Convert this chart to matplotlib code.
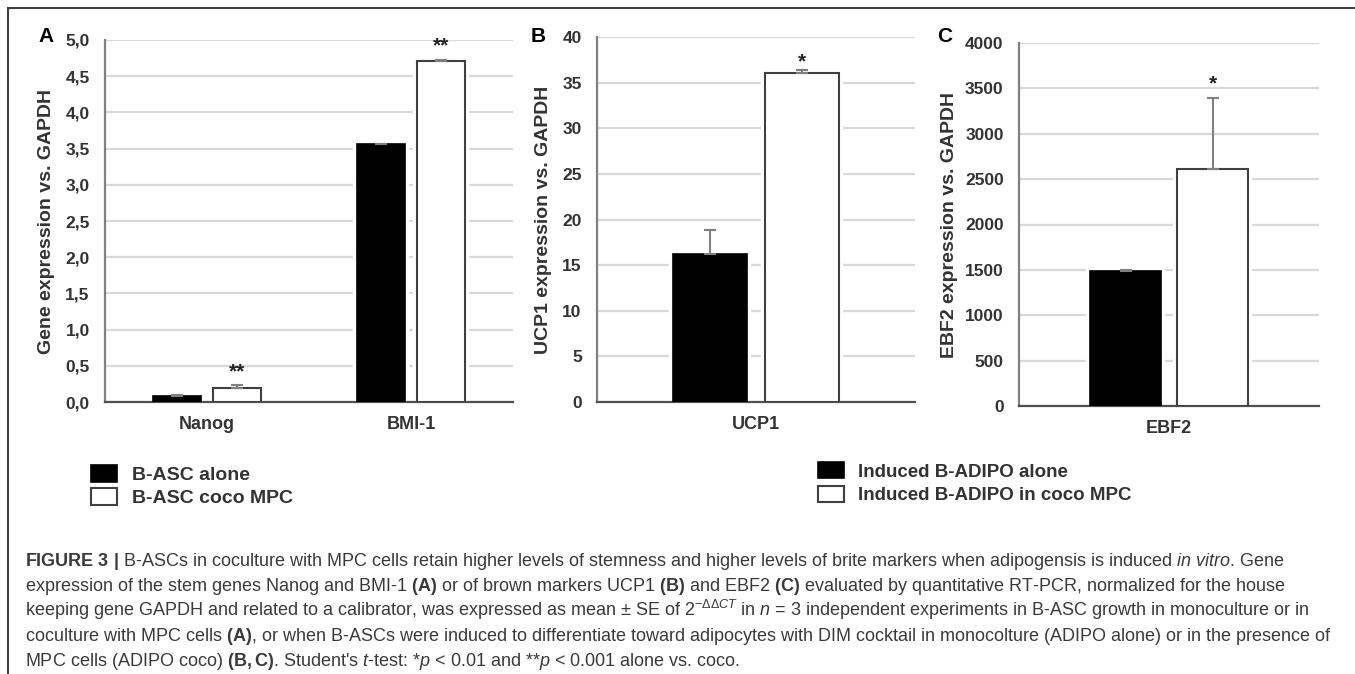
import numpy as np
import matplotlib
matplotlib.use("Agg")
import matplotlib.pyplot as plt
from matplotlib.patches import Patch
from matplotlib.lines import Line2D
from matplotlib.ticker import FuncFormatter, MultipleLocator

plt.rcParams['font.family'] = ['Liberation Sans', 'DejaVu Sans']
plt.rcParams['mathtext.fontset'] = 'custom'
plt.rcParams['mathtext.rm'] = 'Liberation Sans'
plt.rcParams['mathtext.it'] = 'Liberation Sans:italic'
plt.rcParams['mathtext.bf'] = 'Liberation Sans:bold'
plt.rcParams['mathtext.sf'] = 'Liberation Sans'

# Datos
GENES_A = ["Nanog", "BMI-1"]
ASC_SOLO = [0.08, 3.56]
ASC_SOLO_ERR = [0.01, 0.01]
ASC_COCO = [0.20, 4.71]
ASC_COCO_ERR = [0.04, 0.02]
ESTRELLAS_A = ["**", "**"]

GENES_B = ["UCP1"]
UCP1_SOLO = [16.2]
UCP1_SOLO_ERR = [2.7]
UCP1_COCO = [36.1]
UCP1_COCO_ERR = [0.3]
ESTRELLAS_B = ["*"]

GENES_C = ["EBF2"]
EBF2_SOLO = [1490]
EBF2_SOLO_ERR = [10]
EBF2_COCO = [2610]
EBF2_COCO_ERR = [780]
ESTRELLAS_C = ["*"]

LEYENDA_1 = ["B-ASC alone", "B-ASC coco MPC"]
LEYENDA_2 = ["Induced B-ADIPO alone", "Induced B-ADIPO in coco MPC"]

CAPTION = [
    r"$\mathbf{FIGURE\ 3\ |}$ B-ASCs in coculture with MPC cells retain higher levels of stemness and higher levels of brite markers when adipogensis is induced $\mathit{in\ vitro}$. Gene",
    r"expression of the stem genes Nanog and BMI-1 $\mathbf{(A)}$ or of brown markers UCP1 $\mathbf{(B)}$ and EBF2 $\mathbf{(C)}$ evaluated by quantitative RT-PCR, normalized for the house",
    r"keeping gene GAPDH and related to a calibrator, was expressed as mean ± SE of 2$^{-\Delta\Delta \mathit{CT}}$ in $\mathit{n}$ = 3 independent experiments in B-ASC growth in monoculture or in",
    r"coculture with MPC cells $\mathbf{(A)}$, or when B-ASCs were induced to differentiate toward adipocytes with DIM cocktail in monocolture (ADIPO alone) or in the presence of",
    r"MPC cells (ADIPO coco) $\mathbf{(B,C)}$. Student's $\mathit{t}$-test: *$\mathit{p}$ < 0.01 and **$\mathit{p}$ < 0.001 alone vs. coco.",
]

W, H = 1355, 674
fig = plt.figure(figsize=(W / 100, H / 100), dpi=100)

GRIS_TXT = '#333333'
ANCHO = 0.235
DESP = 0.145


def coma(v, pos):
    return f"{v:.1f}".replace(".", ",")


def panel(rect, genes, solo, solo_err, coco, coco_err, estrellas, off_est,
          ymax, paso, ylabel, xlab, letra, letra_x, fmt=None):
    ax = fig.add_axes(rect)
    x = np.arange(len(genes))
    ceros = [0] * len(genes)
    # halo blanco que corta la grilla alrededor de las barras
    for xs, vals in ((x - DESP, solo), (x + DESP, coco)):
        ax.bar(xs, vals, ANCHO, color='none', edgecolor='white', linewidth=6, zorder=1.5)
    ax.bar(x - DESP, solo, ANCHO, color='black', edgecolor='black', linewidth=1.2,
           yerr=[ceros, solo_err], error_kw=dict(ecolor='#808080', elinewidth=1.5,
                                                   capsize=4, capthick=1.5), zorder=3)
    ax.bar(x + DESP, coco, ANCHO, color='white', edgecolor='#404040', linewidth=1.5,
           yerr=[ceros, coco_err], error_kw=dict(ecolor='#808080', elinewidth=1.5,
                                                  capsize=4, capthick=1.5), zorder=3)
    for xi, v, e, s, o in zip(x, coco, coco_err, estrellas, off_est):
        ax.annotate(s, xy=(xi + DESP, v + e), xytext=(0, o), textcoords='offset points',
                    ha='center', va='center', fontsize=15, fontweight='bold', color='#222222')
    ax.set_xlim(-0.5, len(genes) - 0.5)
    ax.set_ylim(0, ymax)
    ax.yaxis.set_major_locator(MultipleLocator(paso))
    if fmt is not None:
        ax.yaxis.set_major_formatter(FuncFormatter(fmt))
    ax.set_xticks(x)
    ax.set_xticklabels(genes)
    ax.set_axisbelow(True)
    ax.grid(axis='y', color='#d9d9d9', linewidth=1.6)
    for s in ('top', 'right'):
        ax.spines[s].set_visible(False)
    ax.spines['left'].set_color('#808080')
    ax.spines['left'].set_linewidth(1.6)
    ax.spines['bottom'].set_color('#505050')
    ax.spines['bottom'].set_linewidth(1.6)
    ax.tick_params(axis='y', length=0, pad=11, labelsize=12.5, labelcolor=GRIS_TXT)
    ax.tick_params(axis='x', length=0, pad=10, labelsize=13, labelcolor=GRIS_TXT)
    for t in ax.get_xticklabels() + ax.get_yticklabels():
        t.set_fontweight('bold')
    ax.set_ylabel(ylabel, fontsize=14, fontweight='bold', color=GRIS_TXT)
    ax.yaxis.set_label_coords(xlab, 0.5)
    fig.text(letra_x / W, 1 - 36 / H, letra, fontsize=15, fontweight='bold',
             ha='center', va='center', color='black')
    return ax


panel([105 / W, 1 - 402 / H, 408 / W, 362 / H], GENES_A, ASC_SOLO, ASC_SOLO_ERR,
      ASC_COCO, ASC_COCO_ERR, ESTRELLAS_A, [9.5, 10], 5, 0.5,
      "Gene expression vs. GAPDH", -0.1225, "A", 46, fmt=coma)
panel([597 / W, 1 - 402 / H, 318 / W, 365 / H], GENES_B, UCP1_SOLO, UCP1_SOLO_ERR,
      UCP1_COCO, UCP1_COCO_ERR, ESTRELLAS_B, [5.5], 40, 5,
      "UCP1 expression vs. GAPDH", -0.1415, "B", 538)
panel([1019 / W, 1 - 406 / H, 300 / W, 363 / H], GENES_C, EBF2_SOLO, EBF2_SOLO_ERR,
      EBF2_COCO, EBF2_COCO_ERR, ESTRELLAS_C, [10.5], 4000, 500,
      "EBF2 expression vs. GAPDH", -0.203, "C", 945)

manijas = [Patch(facecolor='black', edgecolor='black', linewidth=1.2),
           Patch(facecolor='white', edgecolor='#404040', linewidth=1.5)]
fig.legend(manijas, LEYENDA_1, loc='upper left', bbox_to_anchor=(91 / W, 1 - 465 / H),
           frameon=False, borderpad=0, borderaxespad=0, handlelength=1.35, handleheight=0.93,
           handletextpad=0.75, labelspacing=0.22, prop=dict(weight='bold', size=14),
           labelcolor=GRIS_TXT)
fig.legend(manijas, LEYENDA_2, loc='upper left', bbox_to_anchor=(818 / W, 1 - 462 / H),
           frameon=False, borderpad=0, borderaxespad=0, handlelength=1.4, handleheight=0.97,
           handletextpad=0.75, labelspacing=0.26, prop=dict(weight='bold', size=13.5),
           labelcolor=GRIS_TXT)

# marco superior e izquierdo
fig.add_artist(Line2D([8 / W, 1], [1 - 8 / H, 1 - 8 / H], color='#404040', linewidth=1.5))
fig.add_artist(Line2D([8 / W, 8 / W], [0, 1 - 8 / H], color='#404040', linewidth=1.5))

for i, linea in enumerate(CAPTION):
    fig.text(25 / W, 1 - (566 + 25 * i) / H, linea, fontsize=13, color='#3a3a3a',
             ha='left', va='baseline')

fig.savefig("out.png", dpi=100)
